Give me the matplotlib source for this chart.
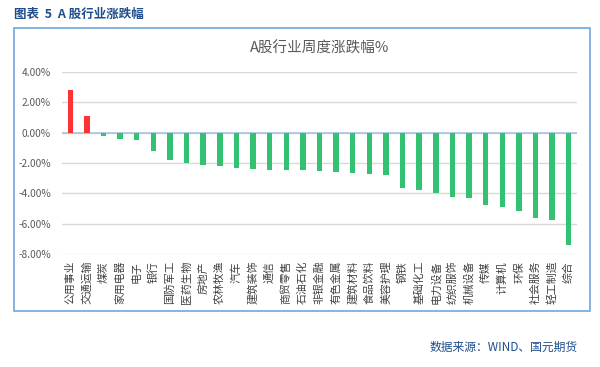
import matplotlib
matplotlib.use("Agg")
import matplotlib.pyplot as plt
from matplotlib.patches import Rectangle
from matplotlib.ticker import FuncFormatter

plt.rcParams['font.family'] = ['Noto Sans CJK SC', 'DejaVu Sans']

categories = ['公用事业', '交通运输', '煤炭', '家用电器', '电子', '银行', '国防军工', '医药生物',
              '房地产', '农林牧渔', '汽车', '建筑装饰', '通信', '商贸零售', '石油石化', '非银金融',
              '有色金属', '建筑材料', '食品饮料', '美容护理', '钢铁', '基础化工', '电力设备',
              '纺织服饰', '机械设备', '传媒', '计算机', '环保', '社会服务', '轻工制造', '综合']
values = [2.80, 1.08, -0.22, -0.42, -0.51, -1.22, -1.77, -2.01, -2.14, -2.21, -2.34, -2.41,
          -2.47, -2.47, -2.47, -2.53, -2.60, -2.67, -2.73, -2.80, -3.66, -3.79, -3.99, -4.25,
          -4.32, -4.78, -4.91, -5.17, -5.64, -5.77, -7.42]
yticks = [4, 2, 0, -2, -4, -6, -8]

fig = plt.figure(figsize=(6.0, 3.67), dpi=100)
W, H = 600, 367
ax = fig.add_axes([62 / W, 1 - 254 / H, (577 - 62) / W, (254 - 72) / H])

colors = ['#ff3333' if v > 0 else '#33c172' for v in values]
x = list(range(len(categories)))
ax.bar(x, values, width=0.33, color=colors, zorder=3)

ax.set_ylim(-8, 4)
ax.set_xlim(-0.5, len(categories) - 0.5)
ax.set_yticks(yticks)
ax.yaxis.set_major_formatter(FuncFormatter(lambda v, p: f"{v:.2f}%"))
ax.grid(axis='y', color='#d9d9d9', linewidth=1.0, zorder=0)
ax.axhline(0, color='#a9c4e0', linewidth=1.2, zorder=2)
for s in ax.spines.values():
    s.set_visible(False)
ax.tick_params(axis='y', length=0, pad=8, labelsize=7.3, labelcolor='#595959')
ax.set_xticks(x)
ax.set_xticklabels(categories, rotation=90, fontsize=7.8, color='#404040', va='top', ha='center')
ax.tick_params(axis='x', length=0, pad=5)

ax.set_title('A股行业周度涨跌幅%', fontsize=10.5, color='#595959', pad=14)

fig.patches.append(Rectangle((14 / W, 1 - 311 / H), (590 - 14) / W, (311 - 28) / H,
                             transform=fig.transFigure, fill=False,
                             edgecolor='#6fa8dc', linewidth=1.2))
fig.text(14 / W, 1 - 14 / H, '图表  5  A 股行业涨跌幅', fontsize=9, fontweight='bold',
         color='#1f4e8c', ha='left', va='center')
fig.text(578 / W, 1 - 347 / H, '数据来源：WIND、国元期货', fontsize=8.5,
         color='#1f4e8c', ha='right', va='center')

fig.savefig('out.png', dpi=100)
